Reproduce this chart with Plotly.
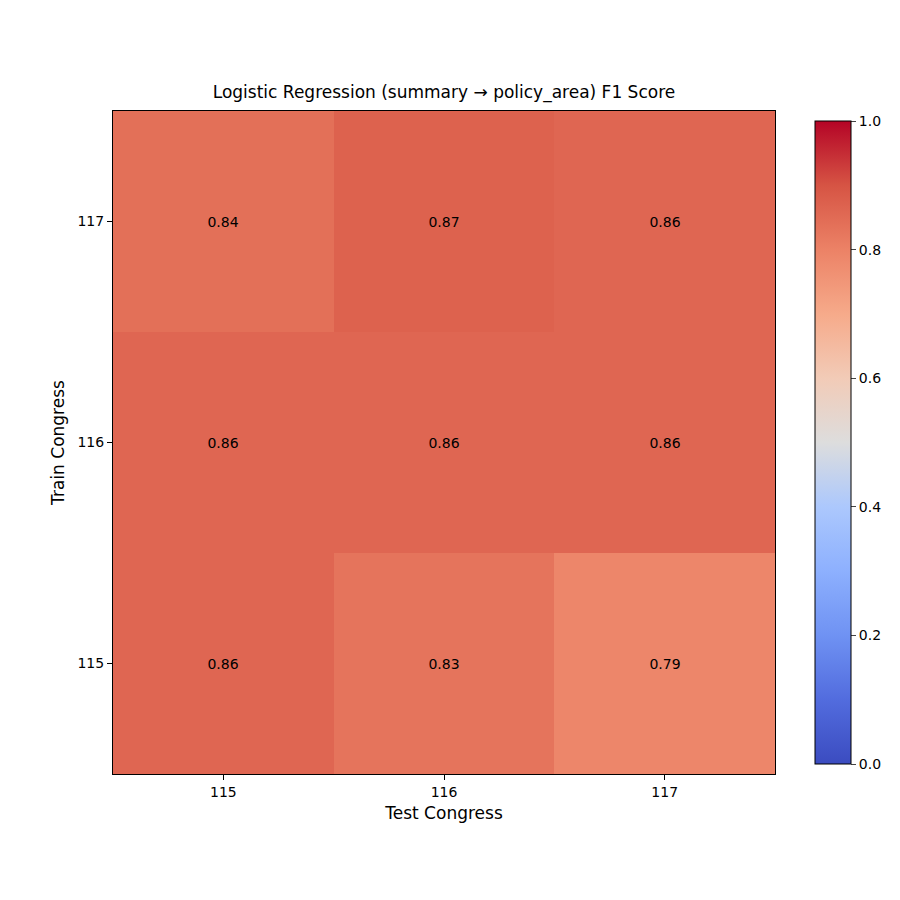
import plotly.graph_objects as go

test_congress = ["115", "116", "117"]
train_congress = ["115", "116", "117"]
f1 = [
    [0.86, 0.83, 0.79],  # train 115
    [0.86, 0.86, 0.86],  # train 116
    [0.84, 0.87, 0.86],  # train 117
]
cbar_ticks = [0.0, 0.2, 0.4, 0.6, 0.8, 1.0]

coolwarm = [
    [0.0, "rgb(59,76,192)"], [0.1, "rgb(82,108,222)"], [0.2, "rgb(111,146,243)"],
    [0.3, "rgb(141,176,254)"], [0.4, "rgb(172,200,253)"], [0.5, "rgb(221,221,221)"],
    [0.6, "rgb(242,203,183)"], [0.7, "rgb(246,170,138)"], [0.8, "rgb(236,130,102)"],
    [0.9, "rgb(214,84,68)"], [1.0, "rgb(180,4,38)"],
]

fig = go.Figure(go.Heatmap(
    x=test_congress, y=train_congress, z=f1, zmin=0, zmax=1,
    colorscale=coolwarm,
    text=[[f"{v:.2f}" for v in row] for row in f1],
    texttemplate="%{text}", textfont=dict(color="black", size=14),
    colorbar=dict(x=1.045, xanchor="left", y=0.5, yanchor="middle", len=1.0,
                  lenmode="fraction", thickness=36, outlinecolor="black",
                  outlinewidth=1, tickvals=cbar_ticks,
                  ticktext=[f"{t:.1f}" for t in cbar_ticks], ticks="outside",
                  tickfont=dict(size=14, color="black")),
))
fig.update_layout(
    width=900, height=900, plot_bgcolor="white", paper_bgcolor="white",
    margin=dict(l=105, r=133, t=103, b=134),
    font=dict(family="DejaVu Sans", size=14, color="black"),
    title=dict(text="Logistic Regression (summary → policy_area) F1 Score",
               x=0.5, xref="paper", xanchor="center", y=1 - 84/900, yanchor="middle",
               font=dict(size=17)),
)
fig.update_xaxes(title_text="Test Congress", showline=True, mirror=True, linecolor="black",
                 ticks="outside", tickcolor="black", title_standoff=8)
fig.update_yaxes(title_text="Train Congress", showline=True, mirror=True, linecolor="black",
                 ticks="outside", tickcolor="black", title_standoff=8)
fig.write_html("out.html")
